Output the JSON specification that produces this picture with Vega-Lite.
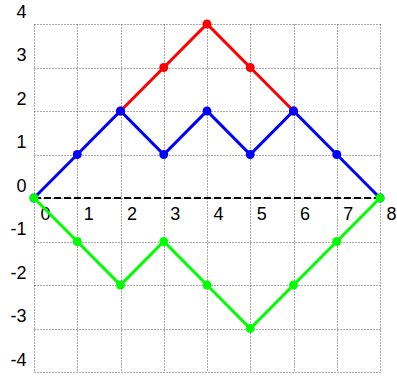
{
  "$schema": "https://vega.github.io/schema/vega-lite/v6.json",
  "autosize": "none",
  "width": 346,
  "height": 348,
  "padding": {"left": 34, "top": 24, "right": 17, "bottom": 7},
  "background": "white",
  "config": {"view": {"stroke": null}},
  "data": {"values": [
    {"s": "red", "x": 2, "y": 2}, {"s": "red", "x": 3, "y": 3}, {"s": "red", "x": 4, "y": 4}, {"s": "red", "x": 5, "y": 3}, {"s": "red", "x": 6, "y": 2},
    {"s": "blue", "x": 0, "y": 0}, {"s": "blue", "x": 1, "y": 1}, {"s": "blue", "x": 2, "y": 2}, {"s": "blue", "x": 3, "y": 1}, {"s": "blue", "x": 4, "y": 2}, {"s": "blue", "x": 5, "y": 1}, {"s": "blue", "x": 6, "y": 2}, {"s": "blue", "x": 7, "y": 1}, {"s": "blue", "x": 8, "y": 0},
    {"s": "axis", "x": 0, "y": 0}, {"s": "axis", "x": 8, "y": 0},
    {"s": "green", "x": 0, "y": 0}, {"s": "green", "x": 1, "y": -1}, {"s": "green", "x": 2, "y": -2}, {"s": "green", "x": 3, "y": -1}, {"s": "green", "x": 4, "y": -2}, {"s": "green", "x": 5, "y": -3}, {"s": "green", "x": 6, "y": -2}, {"s": "green", "x": 7, "y": -1}, {"s": "green", "x": 8, "y": 0}
  ]},
  "encoding": {
    "x": {"field": "x", "type": "quantitative", "scale": {"domain": [0, 8], "nice": false, "zero": false},
      "axis": {"title": null, "values": [0,1,2,3,4,5,6,7,8], "offset": -174, "domain": false, "ticks": false, "labelPadding": 7, "labelOffset": 11, "labelBaseline": "top", "labelExpr": "'' + datum.value", "labelFont": "Liberation Sans", "labelFontSize": 18, "labelColor": "black", "labelFlush": false, "labelOverlap": false,
        "grid": true, "gridColor": "#555", "gridDash": [1, 2], "gridWidth": 1}},
    "y": {"field": "y", "type": "quantitative", "scale": {"domain": [-4, 4], "nice": false, "zero": false},
      "axis": {"title": null, "values": [-4,-3,-2,-1,0,1,2,3,4], "domain": false, "ticks": false, "labelPadding": 8, "labelOffset": -12, "labelAlign": "right", "labelBaseline": "middle", "labelExpr": "'' + datum.value", "labelFont": "Liberation Sans", "labelFontSize": 18, "labelColor": "black", "labelFlush": false, "labelOverlap": false,
        "grid": true, "gridColor": "#555", "gridDash": [1, 2], "gridWidth": 1}}
  },
  "layer": [
    {"transform": [{"filter": "datum.s == 'red'"}], "mark": {"type": "line", "color": "#ff0000", "strokeWidth": 3}},
    {"transform": [{"filter": "datum.s == 'red'"}], "mark": {"type": "circle", "color": "#ff0000", "size": 80, "opacity": 1}},
    {"transform": [{"filter": "datum.s == 'blue'"}], "mark": {"type": "line", "color": "#0000ff", "strokeWidth": 3}},
    {"transform": [{"filter": "datum.s == 'blue'"}], "mark": {"type": "circle", "color": "#0000ff", "size": 80, "opacity": 1}},
    {"transform": [{"filter": "datum.s == 'axis'"}], "mark": {"type": "line", "color": "black", "strokeWidth": 2, "strokeDash": [7, 3]}},
    {"transform": [{"filter": "datum.s == 'green'"}], "mark": {"type": "line", "color": "#00ff00", "strokeWidth": 3}},
    {"transform": [{"filter": "datum.s == 'green'"}], "mark": {"type": "circle", "color": "#00ff00", "size": 80, "opacity": 1}}
  ]
}
